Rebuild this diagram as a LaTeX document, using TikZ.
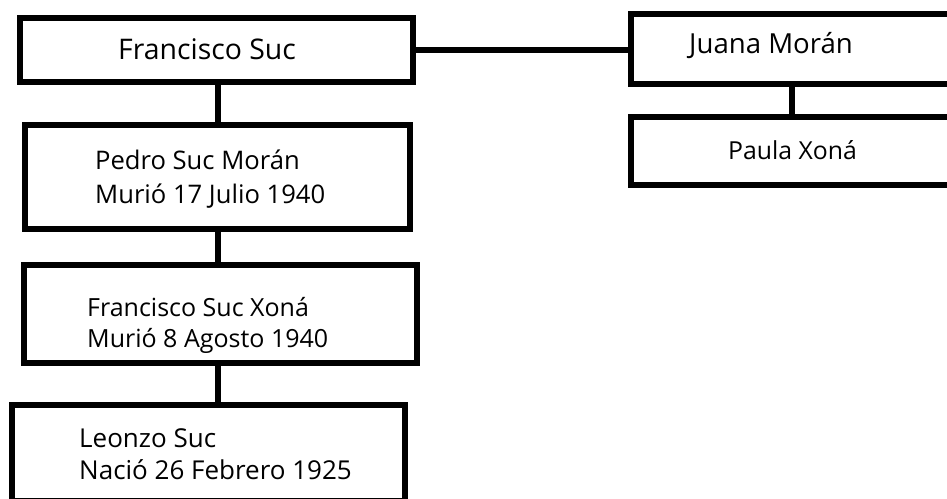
\documentclass[tikz,border=0pt]{standalone}
\usepackage{fontspec}
\setmainfont{Open Sans}
\begin{document}
\begin{tikzpicture}[x=1pt,y=-1pt,
  famblock/.style={draw=black, line width=6.5pt, rectangle, inner sep=0pt, line join=miter},
  lbl/.style={inner sep=0pt, anchor=base west, font=\fontsize{#1}{#1}\selectfont},
  link/.style={draw=black, line width=5.5pt}]
\useasboundingbox (0,0) rectangle (947,498);
\clip (0,0) rectangle (947,498);

% family boxes (stroke centre lines)
\node[famblock, minimum width=393pt, minimum height=64pt]  (francisco) at (216.5,50)  {};
\node[famblock, minimum width=334pt, minimum height=70pt]  (juana)     at (798,49)    {};
\node[famblock, minimum width=334pt, minimum height=68pt]  (paula)     at (798,151)   {};
\node[famblock, minimum width=385pt, minimum height=104pt] (pedro)     at (217.5,177) {};
\node[famblock, minimum width=393pt, minimum height=98pt]  (fxona)     at (220.5,314) {};
\node[famblock, minimum width=393pt, minimum height=96pt]  (leonzo)    at (208.5,453) {};

% names and dates
\node[lbl=28.4] (tfrancisco) at (118,59)  {Francisco Suc};
\node[lbl=27.6] (tjuana)     at (689,53)  {Juana Morán};
\node[lbl=24.8] (tpaula)     at (728,159) {Paula Xoná};
\node[lbl=25.6] (tpedroA)    at (95,169)  {Pedro Suc Morán};
\node[lbl=25.6] (tpedroB)    at (95,203)  {Murió 17 Julio 1940};
\node[lbl=25.0] (tfxonaA)    at (87,316)  {Francisco Suc Xoná};
\node[lbl=25.0] (tfxonaB)    at (87,347)  {Murió 8 Agosto 1940};
\node[lbl=26.0] (tleonzoA)   at (79,447)  {Leonzo Suc};
\node[lbl=26.0] (tleonzoB)   at (79,479)  {Nació 26 Febrero 1925};

% lines of descent
\coordinate (lspine) at (218,0);
\coordinate (rspine) at (792,0);
\draw[link] (francisco.east) -- (juana.west |- francisco.east);
\draw[link] (francisco.south -| lspine) -- (pedro.north -| lspine);
\draw[link] (pedro.south -| lspine) -- (fxona.north -| lspine);
\draw[link] (fxona.south -| lspine) -- (leonzo.north -| lspine);
\draw[link] (juana.south -| rspine) -- (paula.north -| rspine);
\end{tikzpicture}
\end{document}
